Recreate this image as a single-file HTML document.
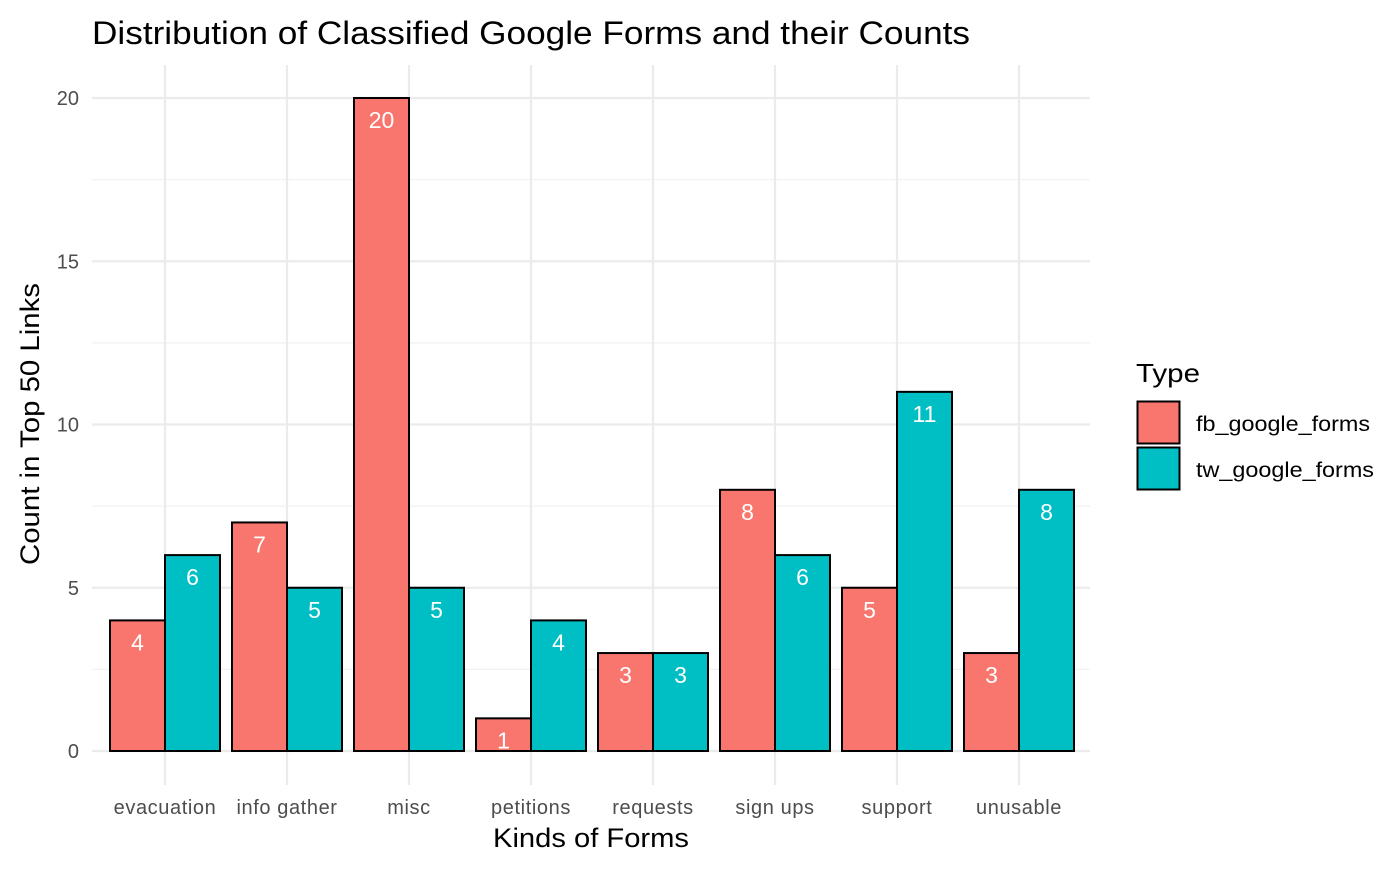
<!DOCTYPE html>
<html><head><meta charset="utf-8"><style>
body{margin:0;background:#fff;font-family:"Liberation Sans",Arial,sans-serif}
svg text{font-family:"Liberation Sans",Arial,sans-serif}
</style></head><body>
<svg id="chart" width="1398" height="880">
<text x="92" y="44" font-size="32" textLength="878" lengthAdjust="spacingAndGlyphs" fill="#000">Distribution of Classified Google Forms and their Counts</text>
<g id="grid"></g><g id="bars"></g><g id="axes"></g>
<text x="591" y="847" font-size="27" text-anchor="middle" textLength="196" lengthAdjust="spacingAndGlyphs" fill="#000">Kinds of Forms</text>
<text transform="translate(39,424) rotate(-90)" font-size="27" text-anchor="middle" textLength="282" lengthAdjust="spacingAndGlyphs" fill="#000">Count in Top 50 Links</text>
<g>
<text x="1136" y="382" font-size="26" textLength="64" lengthAdjust="spacingAndGlyphs" fill="#000">Type</text>
<g><rect x="1137.5" y="401.5" width="42" height="42" fill="#F8766D" stroke="#000" stroke-width="2"/><text x="1196" y="431" font-size="21" textLength="174" lengthAdjust="spacingAndGlyphs" fill="#000">fb_google_forms</text></g>
<g><rect x="1137.5" y="447.5" width="42" height="42" fill="#00BFC4" stroke="#000" stroke-width="2"/><text x="1196" y="477" font-size="21" textLength="178" lengthAdjust="spacingAndGlyphs" fill="#000">tw_google_forms</text></g>
</g>
</svg>
<script>
const categories=["evacuation","info gather","misc","petitions","requests","sign ups","support","unusable"];
const fbValues=[4,7,20,1,3,8,5,3];
const twValues=[6,5,5,4,3,6,11,8];
const yTicks=[0,5,10,15,20];
const NS="http://www.w3.org/2000/svg";
const y=v=>751-v*32.65;
const xc=i=>165+i*122;
function mk(tag,attrs,parent){const e=document.createElementNS(NS,tag);for(const k in attrs)e.setAttribute(k,attrs[k]);parent.appendChild(e);return e;}
const grid=document.getElementById('grid'),bars=document.getElementById('bars'),axes=document.getElementById('axes');
for(let v=2.5;v<=20;v+=5){const l=mk('line',{x1:92,x2:1090,y1:y(v),y2:y(v),stroke:'#f2f2f2','stroke-width':1.2},grid);

}
yTicks.forEach(v=>{const l=mk('line',{x1:92,x2:1090,y1:y(v),y2:y(v),stroke:'#ebebeb','stroke-width':2.2},grid);


const t=mk('text',{x:79,y:y(v)+7,'font-size':20,'text-anchor':'end',fill:'#4d4d4d'},axes);t.textContent=v;

});
categories.forEach((c,i)=>{const l=mk('line',{x1:xc(i),x2:xc(i),y1:65,y2:785,stroke:'#ebebeb','stroke-width':2.2},grid);


const t=mk('text',{x:xc(i),y:814,'font-size':20,'text-anchor':'middle',fill:'#4d4d4d',style:'font-stretch:normal;letter-spacing:0.6px'},axes);t.textContent=c;


[[fbValues[i],'#F8766D',-55,'fb'],[twValues[i],'#00BFC4',0,'tw']].forEach(([v,col,off,s])=>{
const r=mk('rect',{x:xc(i)+off,y:y(v),width:55,height:y(0)-y(v),fill:col,stroke:'#000','stroke-width':2},bars);


const lt=mk('text',{x:xc(i)+off+27.5,y:y(v)+30,'font-size':23,'text-anchor':'middle',fill:'#fff'},bars);lt.textContent=v;

});});
</script>
</body></html>
